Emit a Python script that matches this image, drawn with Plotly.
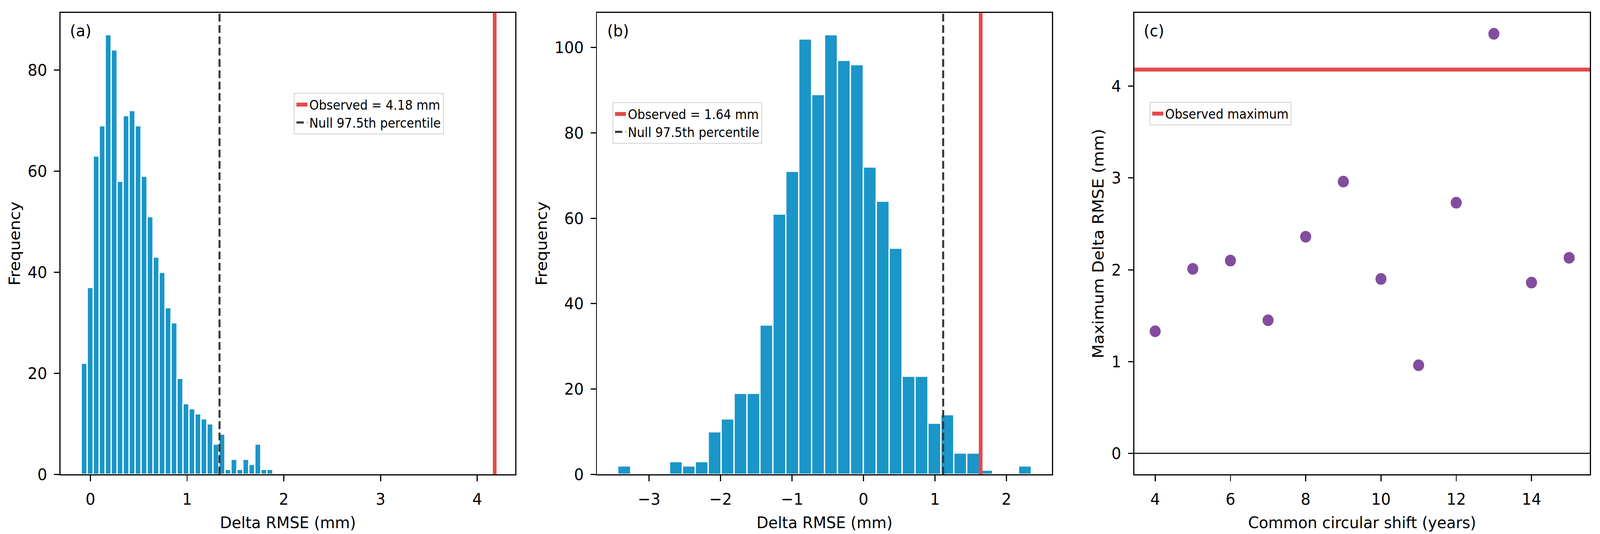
import plotly.graph_objs as go

FONT = 'DejaVu Sans'
TICK_SIZE = 41.7
LEGEND_SIZE = 33

BAR_COLOR = '#1a96c8'
OBS_COLOR = '#e5484d'
NULL_COLOR = '#383838'
POINT_COLOR = '#834c9f'

W, H = 4345, 1368

# (a) null distribution, bin centres and counts
A_CENTERS = [-0.064, -0.002, 0.060, 0.122, 0.184, 0.246, 0.307, 0.369, 0.431, 0.493,
             0.555, 0.617, 0.679, 0.741, 0.803, 0.865, 0.926, 0.988, 1.050, 1.112,
             1.174, 1.236, 1.298, 1.360, 1.422, 1.484, 1.545, 1.607, 1.669, 1.731,
             1.793, 1.855]
A_COUNTS = [22, 37, 63, 69, 87, 84, 58, 71, 72, 69,
            59, 51, 43, 40, 33, 30, 19, 14, 13, 12,
            11, 10, 6, 8, 1, 3, 1, 3, 2, 6,
            1, 1]
A_BIN_WIDTH = 0.0619
A_OBSERVED = 4.18
A_NULL_975 = 1.335

# (b) null distribution, bin centres and counts
B_CENTERS = [-3.349, -3.168, -2.987, -2.806, -2.625, -2.445, -2.264, -2.083, -1.902, -1.721,
             -1.540, -1.359, -1.178, -0.997, -0.816, -0.636, -0.455, -0.274, -0.093, 0.088,
             0.269, 0.450, 0.631, 0.812, 0.992, 1.173, 1.354, 1.535, 1.716, 1.897,
             2.078, 2.259]
B_COUNTS = [2, 0, 0, 0, 3, 2, 3, 10, 13, 19,
            19, 35, 61, 71, 102, 89, 103, 97, 96, 72,
            64, 53, 23, 23, 12, 14, 5, 5, 1, 0,
            0, 2]
B_BIN_WIDTH = 0.1809
B_OBSERVED = 1.64
B_NULL_975 = 1.115

# (c) maximum delta RMSE per common shift
C_SHIFTS = [4, 5, 6, 7, 8, 9, 10, 11, 12, 13, 14, 15]
C_MAX_DELTA = [1.33, 2.01, 2.10, 1.45, 2.36, 2.96, 1.90, 0.96, 2.73, 4.57, 1.86, 2.13]
C_OBSERVED_MAX = 4.18


def px_x(a, b):
    return [a / W, b / W]


Y_DOMAIN = [1 - 1215.3 / H, 1 - 32.5 / H]


def make_axis(domain, rng, tickvals, title, anchor, standoff):
    return dict(
        domain=domain,
        range=rng,
        tickvals=tickvals,
        ticks='outside',
        ticklen=14.6,
        tickwidth=3.3,
        tickcolor='black',
        ticklabelstandoff=10,
        showline=True,
        mirror=True,
        linecolor='black',
        linewidth=3.3,
        showgrid=False,
        zeroline=False,
        automargin=False,
        tickfont=dict(size=TICK_SIZE, color='black'),
        title=dict(text=title, font=dict(size=TICK_SIZE, color='black'), standoff=standoff),
        anchor=anchor,
    )


def histogram(centers, counts, width, xa, ya):
    return go.Bar(
        x=centers, y=counts, width=width,
        marker=dict(color=BAR_COLOR, line=dict(color='white', width=3.5)),
        showlegend=False, xaxis=xa, yaxis=ya, hoverinfo='x+y')


def legend_line(name, color, width, dash, legend):
    # empty trace, just for the legend entry
    return go.Scatter(x=[None], y=[None], mode='lines', name=name,
                      line=dict(color=color, width=width, dash=dash), legend=legend)


def vline(x, xa, color, width, dash='solid'):
    return dict(type='line', xref=xa, yref=xa.replace('x', 'y') + ' domain', x0=x, x1=x, y0=0, y1=1,
                line=dict(color=color, width=width, dash=dash), layer='above')


def hline(y, ya, color, width):
    return dict(type='line', yref=ya, xref=ya.replace('y', 'x') + ' domain', x0=0, x1=1, y0=y, y1=y,
                line=dict(color=color, width=width), layer='above')


def legend_box(x, y):
    return dict(x=x / W, y=1 - y / H, xanchor='left', yanchor='top',
                font=dict(size=LEGEND_SIZE, color='black', family=FONT),
                bgcolor='rgba(255,255,255,0.8)', bordercolor='#d0d0d0', borderwidth=2,
                tracegroupgap=0)


def panel_label(text, x):
    return dict(text=text, xref='paper', yref='paper', x=x / W, y=1 - 52 / H,
                xanchor='left', yanchor='top', showarrow=False,
                font=dict(size=TICK_SIZE, color='black'))


# the browser viewport may be narrower than the figure: scale the div to fit it
FIT_SCRIPT = """
document.body.style.margin = '0';
document.body.style.overflow = 'hidden';
var gd = document.getElementById('{plot_id}');
gd.style.transformOrigin = '0 0';
gd.style.transform = 'scale(' + (window.innerWidth / %d) + ',' + (window.innerHeight / %d) + ')';
""" % (W, H)


if __name__ == '__main__':

    dash = '20px,9px'

    data = [
        histogram(A_CENTERS, A_COUNTS, A_BIN_WIDTH, 'x', 'y'),
        histogram(B_CENTERS, B_COUNTS, B_BIN_WIDTH, 'x2', 'y2'),
        go.Scatter(x=C_SHIFTS, y=C_MAX_DELTA, mode='markers', xaxis='x3', yaxis='y3',
                   marker=dict(color=POINT_COLOR, size=30, line=dict(width=0)), showlegend=False),
        legend_line('Observed = %.2f mm' % A_OBSERVED, OBS_COLOR, 10, 'solid', 'legend'),
        legend_line('Null 97.5th percentile', NULL_COLOR, 5.5, dash, 'legend'),
        legend_line('Observed = %.2f mm' % B_OBSERVED, OBS_COLOR, 10, 'solid', 'legend2'),
        legend_line('Null 97.5th percentile', NULL_COLOR, 5.5, dash, 'legend2'),
        legend_line('Observed maximum', OBS_COLOR, 10, 'solid', 'legend3'),
    ]

    layout = dict(
        template='none',
        width=W, height=H,
        margin=dict(l=0, r=0, t=0, b=0, pad=0),
        paper_bgcolor='white', plot_bgcolor='white',
        font=dict(family=FONT, color='black'),
        xaxis=make_axis(px_x(164.3, 1399.6), [-0.309, 4.394], [0, 1, 2, 3, 4], 'Delta RMSE (mm)', 'y', 22),
        yaxis=make_axis(Y_DOMAIN, [0, 91.35], [0, 20, 40, 60, 80], 'Frequency', 'x', 8),
        xaxis2=make_axis(px_x(1621.4, 2856.8), [-3.729, 2.638], [-3, -2, -1, 0, 1, 2], 'Delta RMSE (mm)', 'y2', 22),
        yaxis2=make_axis(Y_DOMAIN, [0, 108.15], [0, 20, 40, 60, 80, 100], 'Frequency', 'x2', 8),
        xaxis3=make_axis(px_x(3080.8, 4317.4), [3.45, 15.55], [4, 6, 8, 10, 12, 14],
                         'Common circular shift (years)', 'y3', 22),
        yaxis3=make_axis(Y_DOMAIN, [-0.229, 4.80], [0, 1, 2, 3, 4], 'Maximum Delta RMSE (mm)', 'x3', 8),
        shapes=[
            vline(A_NULL_975, 'x', NULL_COLOR, 5.5, dash),
            vline(A_OBSERVED, 'x', OBS_COLOR, 10),
            vline(B_NULL_975, 'x2', NULL_COLOR, 5.5, dash),
            vline(B_OBSERVED, 'x2', OBS_COLOR, 10),
            hline(C_OBSERVED_MAX, 'y3', OBS_COLOR, 10),
            hline(0, 'y3', '#222222', 3.3),
        ],
        legend=legend_box(798, 238),
        legend2=legend_box(1663, 262),
        legend3=legend_box(3122, 261),
        annotations=[
            panel_label('(a)', 188),
            panel_label('(b)', 1647),
            panel_label('(c)', 3104),
        ],
        showlegend=True,
    )

    fig = go.Figure(data=data, layout=layout)
    fig.write_html("out.html", post_script=FIT_SCRIPT, config={'displayModeBar': False})
